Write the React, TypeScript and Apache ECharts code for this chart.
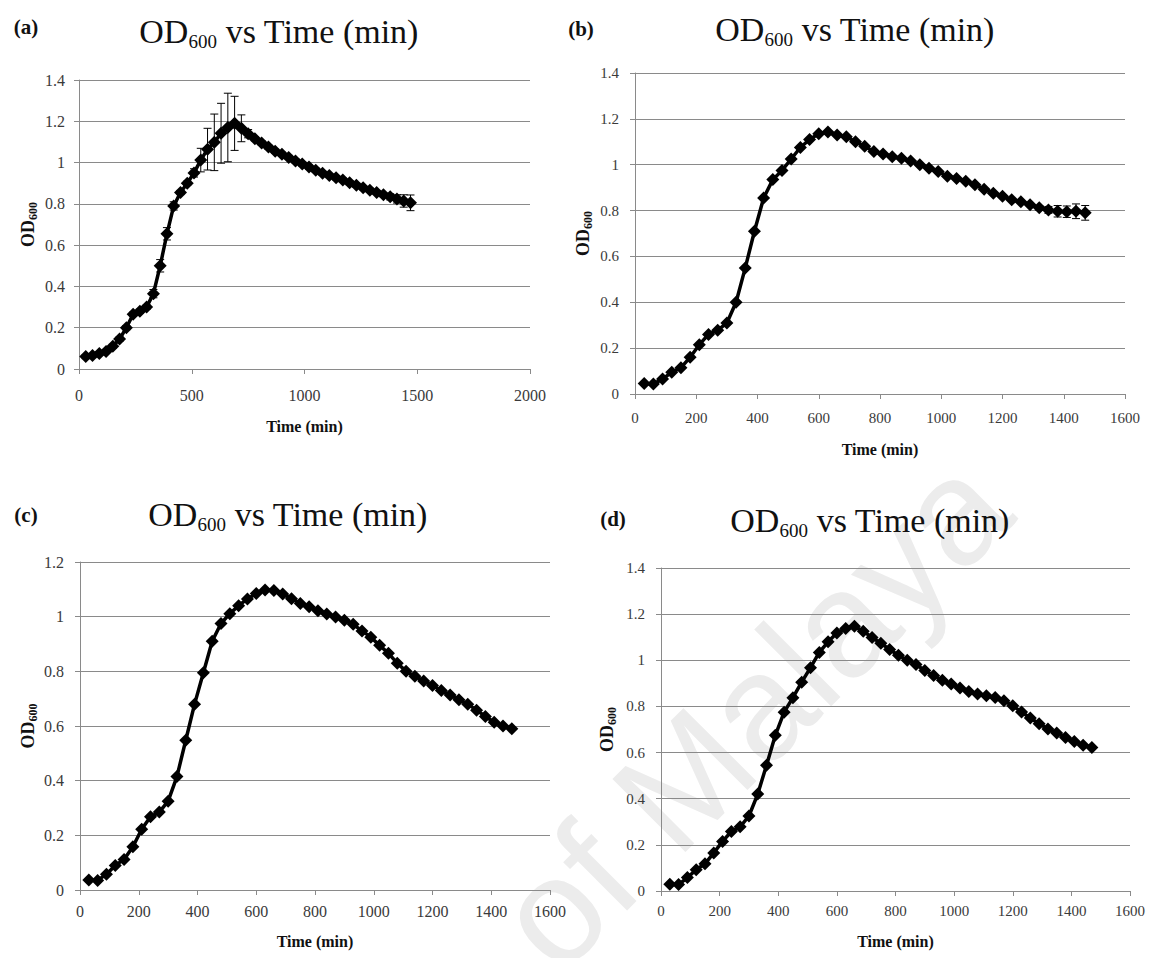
import React, { useEffect, useRef } from "react";
import * as echarts from "echarts";

// ---- data ----
const TIMES = [30, 60, 90, 120, 150, 180, 210, 240, 270, 300, 330, 360, 390, 420, 450, 480, 510, 540, 570, 600, 630, 660, 690, 720, 750, 780, 810, 840, 870, 900, 930, 960, 990, 1020, 1050, 1080, 1110, 1140, 1170, 1200, 1230, 1260, 1290, 1320, 1350, 1380, 1410, 1440, 1470];

const OD_A = [0.06, 0.065, 0.075, 0.085, 0.11, 0.145, 0.2, 0.265, 0.28, 0.3, 0.365, 0.5, 0.655, 0.79, 0.855, 0.9, 0.95, 1.012, 1.065, 1.098, 1.142, 1.17, 1.19, 1.166, 1.14, 1.115, 1.095, 1.075, 1.055, 1.04, 1.025, 1.008, 0.993, 0.978, 0.963, 0.948, 0.937, 0.926, 0.915, 0.902, 0.89, 0.878, 0.866, 0.855, 0.844, 0.834, 0.824, 0.814, 0.805];
const ERR_A = [0.01, 0.01, 0.01, 0.01, 0.01, 0.01, 0.01, 0.01, 0.01, 0.01, 0.02, 0.03, 0.03, 0.02, 0.01, 0.01, 0.02, 0.057, 0.101, 0.137, 0.145, 0.166, 0.131, 0.065, 0.02, 0.01, 0.01, 0.01, 0.01, 0.01, 0.01, 0.01, 0.01, 0.01, 0.01, 0.01, 0.01, 0.01, 0.01, 0.01, 0.01, 0.01, 0.01, 0.01, 0.01, 0.015, 0.02, 0.03, 0.038];

const OD_B = [0.046, 0.044, 0.065, 0.095, 0.115, 0.16, 0.215, 0.26, 0.278, 0.31, 0.4, 0.55, 0.71, 0.855, 0.935, 0.975, 1.025, 1.075, 1.11, 1.135, 1.143, 1.13, 1.122, 1.1, 1.08, 1.058, 1.047, 1.035, 1.028, 1.016, 1.0, 0.985, 0.97, 0.95, 0.94, 0.928, 0.913, 0.893, 0.876, 0.862, 0.847, 0.838, 0.825, 0.812, 0.803, 0.797, 0.795, 0.797, 0.79];
const ERR_B = [0.005, 0.005, 0.005, 0.005, 0.005, 0.005, 0.005, 0.005, 0.005, 0.005, 0.005, 0.005, 0.005, 0.005, 0.005, 0.005, 0.005, 0.005, 0.005, 0.005, 0.005, 0.005, 0.005, 0.005, 0.005, 0.005, 0.005, 0.005, 0.005, 0.005, 0.005, 0.005, 0.005, 0.005, 0.005, 0.005, 0.005, 0.005, 0.005, 0.005, 0.005, 0.005, 0.005, 0.01, 0.015, 0.025, 0.025, 0.032, 0.032];

const OD_C = [0.037, 0.035, 0.058, 0.09, 0.112, 0.158, 0.222, 0.268, 0.285, 0.325, 0.415, 0.548, 0.68, 0.795, 0.91, 0.975, 1.011, 1.04, 1.065, 1.085, 1.098, 1.096, 1.083, 1.066, 1.048, 1.036, 1.022, 1.01, 0.999, 0.987, 0.972, 0.948, 0.925, 0.895, 0.866, 0.83, 0.8, 0.782, 0.765, 0.748, 0.73, 0.713, 0.696, 0.68, 0.658, 0.635, 0.614, 0.6, 0.59];

const OD_D = [0.029, 0.028, 0.058, 0.092, 0.118, 0.165, 0.215, 0.258, 0.278, 0.325, 0.42, 0.545, 0.675, 0.775, 0.838, 0.905, 0.968, 1.034, 1.08, 1.118, 1.138, 1.147, 1.126, 1.099, 1.074, 1.047, 1.022, 1.0, 0.982, 0.956, 0.934, 0.913, 0.897, 0.88, 0.865, 0.854, 0.846, 0.839, 0.825, 0.803, 0.776, 0.75, 0.725, 0.702, 0.685, 0.665, 0.648, 0.632, 0.622];

const PANEL_LETTERS = ["(a)", "(b)", "(c)", "(d)"];
const X_MAX = [2000, 1600, 1600, 1600];
const X_STEP = [500, 200, 200, 200];
const Y_MAX = [1.4, 1.4, 1.2, 1.4];
const Y_STEP = 0.2;
const TITLE_TEXT = "{a|OD}{s|600}{a| vs Time (min)}";
const X_NAME = "Time (min)";
const Y_NAME = "{b|OD}{s|600}";
const WATERMARK = "of Malaya";

// ---- layout / style ----
const SERIF = '"Liberation Serif", "Times New Roman", serif';
const GRID_COLOR = "#8a8a8a";

const LAYOUT = [
  { grid: { left: 79, top: 80, width: 451, height: 289 }, title: [279, 31], letter: [26, 27], lab: 16, xMargin: 18, yMargin: 14, xGap: 48, yGap: 40 },
  { grid: { left: 635, top: 73, width: 490, height: 321 }, title: [855, 29], letter: [581, 29], lab: 15, xMargin: 16, yMargin: 16, xGap: 46, yGap: 41 },
  { grid: { left: 80, top: 562, width: 470, height: 328 }, title: [288, 514], letter: [26, 515], lab: 16, xMargin: 13, yMargin: 16, xGap: 42, yGap: 41 },
  { grid: { left: 661, top: 568, width: 469, height: 323 }, title: [870, 520], letter: [613, 519], lab: 15, xMargin: 12, yMargin: 16, xGap: 41, yGap: 43 },
];

function buildOption() {
  const series: any[] = [];
  const ods = [OD_A, OD_B, OD_C, OD_D];
  const errs: (number[] | null)[] = [ERR_A, ERR_B, null, null];

  ods.forEach((od, i) => {
    const err = errs[i];
    if (err) {
      series.push({
        type: "custom",
        xAxisIndex: i,
        yAxisIndex: i,
        z: 3,
        silent: true,
        encode: { x: 0, y: [1, 2] },
        data: TIMES.map((t, k) => [t, od[k] - err[k], od[k] + err[k]]),
        renderItem: (params: any, api: any) => {
          const x = api.value(0);
          const lo = api.coord([x, api.value(1)]);
          const hi = api.coord([x, api.value(2)]);
          const w = 4;
          const style = { stroke: "#000", lineWidth: 1 };
          return {
            type: "group",
            children: [
              { type: "line", shape: { x1: lo[0], y1: lo[1], x2: hi[0], y2: hi[1] }, style },
              { type: "line", shape: { x1: lo[0] - w, y1: lo[1], x2: lo[0] + w, y2: lo[1] }, style },
              { type: "line", shape: { x1: hi[0] - w, y1: hi[1], x2: hi[0] + w, y2: hi[1] }, style },
            ],
          };
        },
      });
    }
    series.push({
      type: "line",
      xAxisIndex: i,
      yAxisIndex: i,
      z: 4,
      data: TIMES.map((t, k) => [t, od[k]]),
      symbol: "diamond",
      symbolSize: 13,
      showSymbol: true,
      lineStyle: { color: "#000", width: 3.5 },
      itemStyle: { color: "#000" },
    });
  });

  const axisLineStyle = { color: GRID_COLOR, width: 1 };

  return {
    animation: false,
    backgroundColor: "#ffffff",
    title: LAYOUT.map((L) => ({
      text: TITLE_TEXT,
      left: L.title[0],
      top: L.title[1] - 20,
      textAlign: "center",
      padding: 0,
      textStyle: {
        fontWeight: "normal",
        rich: {
          a: { fontFamily: SERIF, fontSize: 34, fontWeight: "normal", color: "#111", lineHeight: 40 },
          s: { fontFamily: SERIF, fontSize: 19, fontWeight: "normal", color: "#111", lineHeight: 19, verticalAlign: "bottom" },
        },
      },
    })),
    grid: LAYOUT.map((L) => ({ ...L.grid, containLabel: false })),
    xAxis: LAYOUT.map((L, i) => ({
      type: "value",
      gridIndex: i,
      min: 0,
      max: X_MAX[i],
      interval: X_STEP[i],
      axisLine: { show: true, onZero: false, lineStyle: axisLineStyle },
      axisTick: { show: true, length: 5, lineStyle: axisLineStyle },
      splitLine: { show: false },
      axisLabel: { fontFamily: SERIF, fontSize: L.lab, color: "#3a3a3a", margin: L.xMargin, formatter: (v: number) => String(v) },
      name: X_NAME,
      nameLocation: "middle",
      nameGap: L.xGap,
      nameTextStyle: { fontFamily: SERIF, fontSize: 16, fontWeight: "bold", color: "#111", lineHeight: 18 },
    })),
    yAxis: LAYOUT.map((L, i) => ({
      type: "value",
      gridIndex: i,
      min: 0,
      max: Y_MAX[i],
      interval: Y_STEP,
      axisLine: { show: true, lineStyle: axisLineStyle },
      axisTick: { show: true, length: 5, lineStyle: axisLineStyle },
      splitLine: { show: true, lineStyle: { color: GRID_COLOR, width: 1 } },
      axisLabel: { fontFamily: SERIF, fontSize: L.lab, color: "#3a3a3a", margin: L.yMargin, formatter: (v: number) => String(Math.round(v * 10) / 10) },
      name: Y_NAME,
      nameLocation: "middle",
      nameRotate: 90,
      nameGap: L.yGap,
      nameTextStyle: {
        rich: {
          b: { fontFamily: SERIF, fontSize: 18, fontWeight: "bold", color: "#111", lineHeight: 22 },
          s: { fontFamily: SERIF, fontSize: 12, fontWeight: "bold", color: "#111", lineHeight: 12, verticalAlign: "bottom" },
        },
      },
    })),
    graphic: [
      {
        type: "text",
        x: 752,
        y: 712,
        rotation: Math.PI / 4,
        z: -10,
        silent: true,
        style: {
          text: WATERMARK,
          fontFamily: '"Liberation Sans", Arial, sans-serif',
          fontSize: 150,
          fill: "#ececec",
          align: "center",
          verticalAlign: "middle",
        },
      },
      ...LAYOUT.map((L, i) => ({
        type: "text",
        x: L.letter[0],
        y: L.letter[1],
        style: {
          text: PANEL_LETTERS[i],
          fontFamily: SERIF,
          fontSize: 21,
          fontWeight: "bold",
          fill: "#111",
          align: "center",
          verticalAlign: "middle",
        },
      })),
    ],
    series,
  };
}

export default function App() {
  const ref = useRef<HTMLDivElement>(null);
  useEffect(() => {
    document.body.style.margin = "0";
    if (!ref.current) return;
    const chart = echarts.init(ref.current, null, { renderer: "svg" });
    chart.setOption(buildOption() as any);
    return () => chart.dispose();
  }, []);
  return <div ref={ref} style={{ width: 1149, height: 958, background: "#fff" }} />;
}
